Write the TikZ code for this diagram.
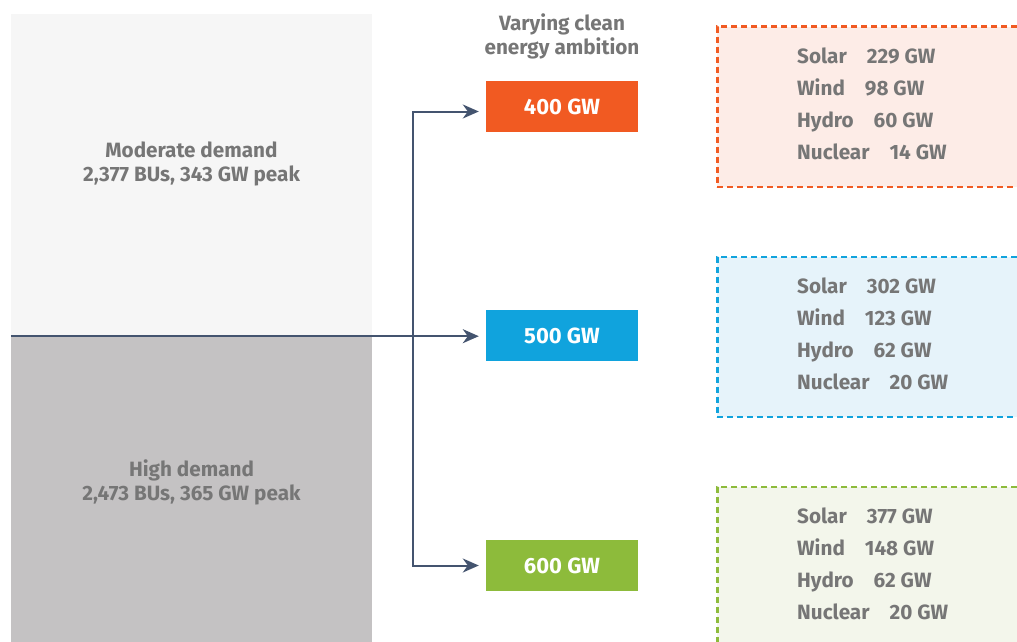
\documentclass[tikz,border=0pt]{standalone}
\usepackage{fontspec}
\setmainfont{Fira Sans}
\usetikzlibrary{positioning,arrows.meta,calc}

\definecolor{demandlight}{HTML}{F6F6F6}
\definecolor{demanddark}{HTML}{C4C2C3}
\definecolor{labelgray}{HTML}{767676}
\definecolor{linkblue}{HTML}{44546F}
\definecolor{c400}{HTML}{F15A22}
\definecolor{c500}{HTML}{10A3DD}
\definecolor{c600}{HTML}{8DBB3B}
\definecolor{c400bg}{HTML}{FDECE7}
\definecolor{c500bg}{HTML}{E6F3FA}
\definecolor{c600bg}{HTML}{F3F6EB}

\tikzset{
  txt/.style={font=\fontsize{20.7}{24}\selectfont\bfseries, text=labelgray, inner sep=0pt},
  demand/.style={minimum width=361pt, inner sep=0pt, draw=none},
  gwbox/.style={minimum width=152pt, minimum height=51pt, inner sep=0pt,
    text=white, font=\fontsize{22}{24}\selectfont\bfseries},
  mixbox/.style={anchor=north west, minimum width=340pt, minimum height=160pt,
    inner sep=0pt, line width=2.5pt, dash pattern=on 6pt off 4pt},
  link/.style={draw=linkblue, line width=2pt, shorten >=7pt,
    -{Stealth[length=16pt,width=14pt,inset=5pt]}}
}

\begin{document}
\begin{tikzpicture}[x=1pt,y=-1pt]
\useasboundingbox (0,0) rectangle (1017,642);
\clip (0,0) rectangle (1017,642);

\node[demand, fill=demandlight, minimum height=322pt] (moderate) at (191.5,175) {};
\node[demand, fill=demanddark, minimum height=306pt] (high) at (191.5,489) {};
\node[txt, align=center] (moderatetxt) at (191.5,164) {Moderate demand\\2,377 BUs, 343 GW peak};
\node[txt, align=center] (hightxt) at (191.5,482) {High demand\\2,473 BUs, 365 GW peak};

\node[txt, align=center] (title) at (562,36) {Varying clean\\energy ambition};
\node[gwbox, fill=c400] (b400) at (562,106.5) {400 GW};
\node[gwbox, fill=c500] (b500) at (562,335.5) {500 GW};
\node[gwbox, fill=c600] (b600) at (562,565.5) {600 GW};

\coordinate (split) at (413,336);
\draw[link] (moderate.south west) -- (moderate.south west -| b500.west);
\draw[link] (split) |- ([yshift=-5pt]b400.west);
\draw[link] (split) |- (b600.west);

\foreach \n/\top/\a/\b/\c/\d in {400/25.5/229/98/60/14, 500/255.5/302/123/62/20, 600/485.5/377/148/62/20}{
  \node[mixbox, draw=c\n, fill=c\n bg] (mix\n) at (716,\top) {};
  \foreach \lab/\val [count=\i] in {Solar/\a, Wind/\b, Hydro/\c, Nuclear/\d}
    \node[txt, anchor=base west] (mix\n-\i) at ($(mix\n.north west)+(81,38+32*\i-32)$) {\lab\hspace{20pt}\val~GW};
}
\end{tikzpicture}
\end{document}
